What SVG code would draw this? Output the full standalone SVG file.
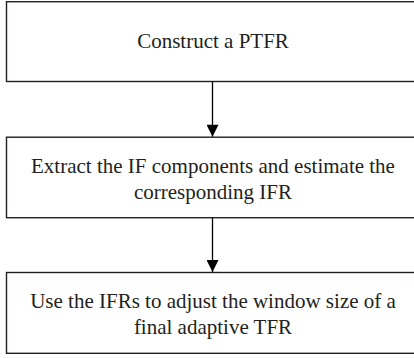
<svg xmlns="http://www.w3.org/2000/svg" width="414" height="358" viewBox="0 0 414 358">
<defs>
<style>
.box{fill:#fff;stroke:#231f20;stroke-width:1.4}
.lbl{font-family:"Liberation Serif","Times New Roman",serif;font-size:21px;fill:#231f20;text-anchor:middle}
.edge{stroke:#000;stroke-width:1.3;fill:none}
</style>
<marker id="ah" markerWidth="13" markerHeight="12" refX="13" refY="6.5" orient="auto" markerUnits="userSpaceOnUse" viewBox="0 0 13 13">
<path d="M0,0 L13,6.5 L0,13 Z" fill="#000"/>
</marker>
</defs>
<rect width="414" height="358" fill="#fff"/>
<g id="n1">
<rect class="box" x="6.5" y="1.7" width="420" height="79.8"/>
<text class="lbl" x="213" y="48">Construct a PTFR</text>
</g>
<g id="n2">
<rect class="box" x="6.5" y="137.2" width="420" height="80.5"/>
<text class="lbl" x="213" y="172.5">Extract the IF components and estimate the</text>
<text class="lbl" x="213" y="198.5">corresponding IFR</text>
</g>
<g id="n3">
<rect class="box" x="6.5" y="272.5" width="420" height="80.8"/>
<text class="lbl" x="213" y="307.7">Use the IFRs to adjust the window size of a</text>
<text class="lbl" x="213" y="333.5">final adaptive TFR</text>
</g>
<g id="edges">
<line class="edge" x1="212.5" y1="81.5" x2="212.5" y2="136.7" marker-end="url(#ah)"/>
<line class="edge" x1="212.5" y1="217.7" x2="212.5" y2="272" marker-end="url(#ah)"/>
</g>
</svg>
